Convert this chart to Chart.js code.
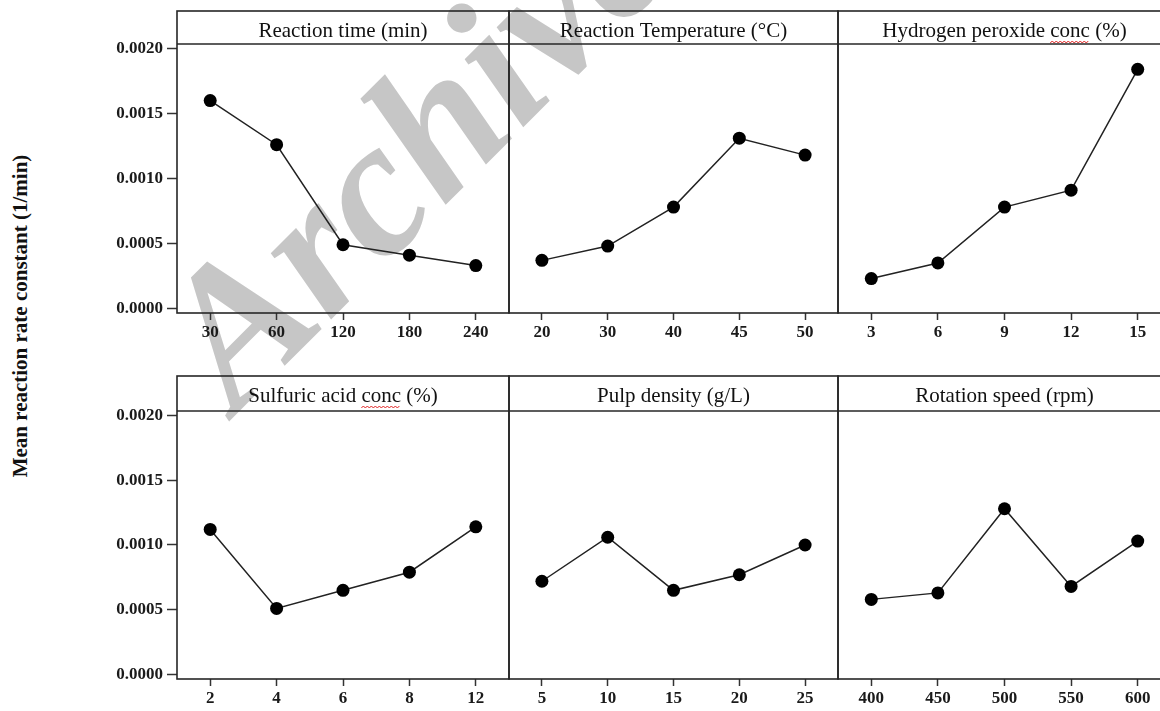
<!DOCTYPE html>
<html>
<head>
<meta charset="utf-8">
<script src="https://cdn.jsdelivr.net/npm/chart.js@4.4.0/dist/chart.umd.min.js"></script>
<style>
  html, body { margin: 0; padding: 0; background: #fff; }
  body { width: 1160px; height: 711px; overflow: hidden; position: relative; }
  canvas { position: absolute; }
  #marca {
    position: absolute; left: 121px; top: 299px;
    font: italic bold 195px "Liberation Serif", serif; line-height: 1;
    color: #c6c6c6; white-space: nowrap;
    transform-origin: 0 0; transform: rotate(-45deg);
  }
  #rotuloY {
    position: absolute; left: 20px; top: 316px;
    font: bold 21px "Liberation Serif", serif; color: #111; white-space: nowrap;
    transform: translate(-50%, -50%) rotate(-90deg);
  }
</style>
</head>
<body>
<div id="marca">Archive</div>
<div id="rotuloY">Mean reaction rate constant (1/min)</div>
<script>
// niveis de cada fator (eixo x)
const niveisTempo = ['30', '60', '120', '180', '240'];
const niveisTemperatura = ['20', '30', '40', '45', '50'];
const niveisPeroxido = ['3', '6', '9', '12', '15'];
const niveisAcido = ['2', '4', '6', '8', '12'];
const niveisPolpa = ['5', '10', '15', '20', '25'];
const niveisRotacao = ['400', '450', '500', '550', '600'];

// constante de taxa media (1/min)
const taxaTempo = [0.00160, 0.00126, 0.00049, 0.00041, 0.00033];
const taxaTemperatura = [0.00037, 0.00048, 0.00078, 0.00131, 0.00118];
const taxaPeroxido = [0.00023, 0.00035, 0.00078, 0.00091, 0.00184];
const taxaAcido = [0.00112, 0.00051, 0.00065, 0.00079, 0.00114];
const taxaPolpa = [0.00072, 0.00106, 0.00065, 0.00077, 0.00100];
const taxaRotacao = [0.00058, 0.00063, 0.00128, 0.00068, 0.00103];

const ticksY = [0, 0.0005, 0.0010, 0.0015, 0.0020];

const paineis = [
  { titulo: 'Reaction time (min)', niveis: niveisTempo, valores: taxaTempo, col: 0, lin: 0 },
  { titulo: 'Reaction Temperature (°C)', niveis: niveisTemperatura, valores: taxaTemperatura, col: 1, lin: 0 },
  { titulo: 'Hydrogen peroxide conc (%)', niveis: niveisPeroxido, valores: taxaPeroxido, col: 2, lin: 0 },
  { titulo: 'Sulfuric acid conc (%)', niveis: niveisAcido, valores: taxaAcido, col: 0, lin: 1 },
  { titulo: 'Pulp density (g/L)', niveis: niveisPolpa, valores: taxaPolpa, col: 1, lin: 1 },
  { titulo: 'Rotation speed (rpm)', niveis: niveisRotacao, valores: taxaRotacao, col: 2, lin: 1 }
];

// geometria da grade (px da pagina)
const colEsq = [177, 509, 838];
const colDir = [509, 838, 1171];
const linCab = [11, 376];   // topo do cabecalho
const linTopo = [44, 411];  // topo da area do grafico
const linBase = [313, 679]; // base da area do grafico
const largEixoY = 117;
const altEixoX = 30;

const fonteTick = { family: '"Liberation Serif", serif', size: 17, weight: 'bold' };

// desenha moldura, cabecalho e titulo de cada painel
const moldura = {
  id: 'moldura',
  afterDraw(chart, args, opts) {
    const { ctx, chartArea: a } = chart;
    const topo = a.top - opts.cabecalho;
    ctx.save();
    ctx.strokeStyle = '#262626';
    ctx.lineWidth = 1.6;
    ctx.strokeRect(a.left, topo, a.right - a.left, a.bottom - topo);
    ctx.beginPath();
    ctx.moveTo(a.left, a.top);
    ctx.lineTo(a.right, a.top);
    ctx.stroke();

    ctx.font = '21px "Liberation Serif", serif';
    ctx.fillStyle = '#111';
    ctx.textAlign = 'center';
    ctx.textBaseline = 'alphabetic';
    const cx = (a.left + a.right) / 2;
    const by = topo + 26;
    ctx.fillText(opts.titulo, cx, by);

    // sublinhado ondulado do corretor sob "conc"
    const i = opts.titulo.indexOf('conc');
    if (i >= 0) {
      const w = ctx.measureText(opts.titulo).width;
      const x0 = cx - w / 2 + ctx.measureText(opts.titulo.slice(0, i)).width;
      const x1 = x0 + ctx.measureText('conc').width;
      ctx.strokeStyle = '#e02020';
      ctx.lineWidth = 1;
      ctx.beginPath();
      let k = 0;
      for (let x = x0; x <= x1; x += 2, k++) {
        const y = by + 4 + (k % 2 ? 0 : 2);
        if (k === 0) ctx.moveTo(x, y); else ctx.lineTo(x, y);
      }
      ctx.stroke();
    }
    ctx.restore();
  }
};

function criarPainel(p) {
  const comEixoY = p.col === 0;
  const extraEsq = comEixoY ? largEixoY : 4;
  const cv = document.createElement('canvas');
  const larg = colDir[p.col] - colEsq[p.col] + extraEsq + 4;
  const alt = linBase[p.lin] - linCab[p.lin] + 4 + altEixoX;
  cv.width = larg;
  cv.height = alt;
  cv.style.left = (colEsq[p.col] - extraEsq) + 'px';
  cv.style.top = (linCab[p.lin] - 4) + 'px';
  document.body.appendChild(cv);

  const cabecalho = linTopo[p.lin] - linCab[p.lin];

  new Chart(cv, {
    type: 'line',
    data: {
      labels: p.niveis,
      datasets: [{
        data: p.valores,
        borderColor: '#222',
        borderWidth: 1.5,
        pointRadius: 6.5,
        pointBackgroundColor: '#000',
        pointBorderColor: '#000',
        pointBorderWidth: 0,
        tension: 0
      }]
    },
    options: {
      responsive: false,
      animation: false,
      devicePixelRatio: 1,
      layout: { autoPadding: false, padding: { top: cabecalho + 4, left: comEixoY ? 0 : 4, right: 4, bottom: 0 } },
      plugins: {
        legend: { display: false },
        tooltip: { enabled: false },
        moldura: { titulo: p.titulo, cabecalho }
      },
      scales: {
        x: {
          offset: true,
          grid: { offset: false, drawOnChartArea: false, tickLength: 7, tickColor: '#333', tickWidth: 1.5 },
          border: { display: false },
          ticks: { font: fonteTick, color: '#1a1a1a', padding: 2, maxRotation: 0, autoSkip: false },
          afterFit: s => { s.height = altEixoX; s.paddingLeft = 0; s.paddingRight = 0; }
        },
        y: {
          display: comEixoY,
          min: -0.000035,
          max: 0.002035,
          grid: { drawOnChartArea: false, tickLength: 10, tickColor: '#333', tickWidth: 1.5 },
          border: { display: false },
          ticks: { font: fonteTick, color: '#1a1a1a', padding: 4, callback: v => Number(v).toFixed(4) },
          afterBuildTicks: s => { s.ticks = ticksY.map(v => ({ value: v })); },
          afterFit: s => { s.width = comEixoY ? largEixoY : 0; s.paddingTop = 0; s.paddingBottom = 0; }
        }
      }
    },
    plugins: [moldura]
  });
}

paineis.forEach(criarPainel);
</script>
</body>
</html>
